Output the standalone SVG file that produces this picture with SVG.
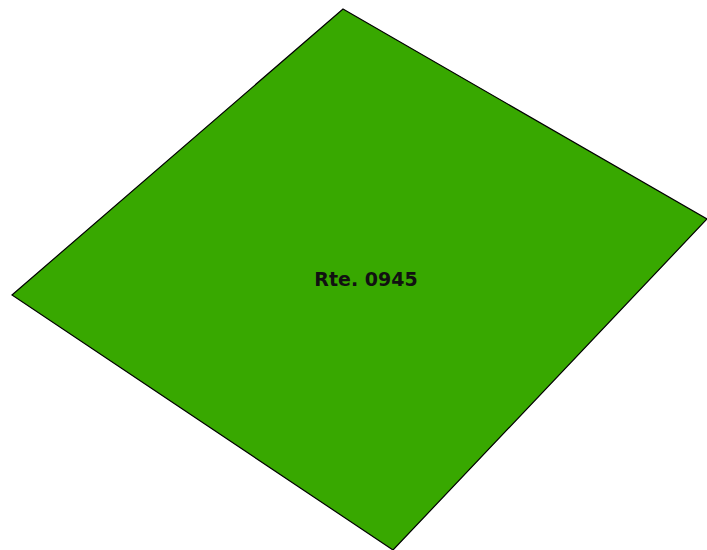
<svg xmlns="http://www.w3.org/2000/svg" width="707" height="550" viewBox="0 0 707 550">
<style>
.area{fill:#38a800;stroke:#000;stroke-width:1.2;stroke-linejoin:miter}
.lbl{font-family:"DejaVu Sans",Verdana,sans-serif;font-weight:bold;font-size:19px;fill:#111;text-anchor:middle}
</style>
<rect width="707" height="550" fill="#fff"/>
<g id="rte0945">
<polygon class="area" points="343,9 707,219 393,550 12,295"/>
<text class="lbl" x="366" y="286">Rte. 0945</text>
</g>
</svg>
